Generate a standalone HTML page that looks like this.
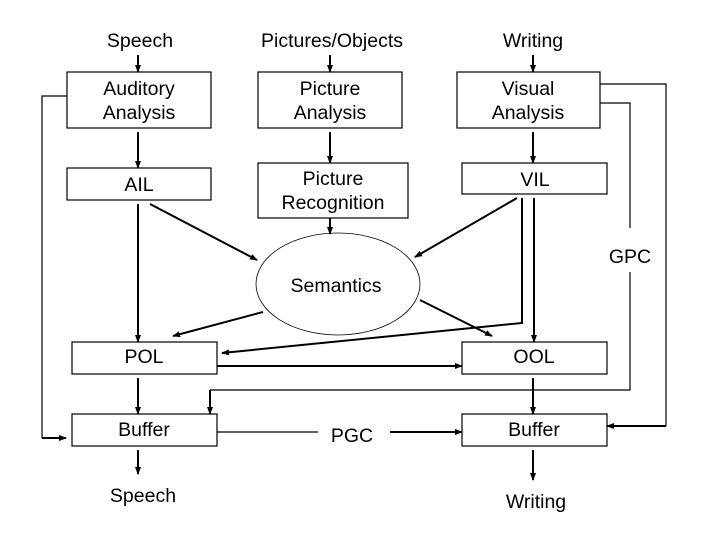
<!DOCTYPE html>
<html><head><style>body{margin:0;background:#fff}</style></head><body>
<svg width="720" height="540" xmlns="http://www.w3.org/2000/svg" font-family="Liberation Sans, Arial, sans-serif" font-size="19.5" text-anchor="middle">
<defs><marker id="a" markerWidth="8" markerHeight="8" refX="7" refY="4" orient="auto" markerUnits="userSpaceOnUse"><path d="M0,1 L8,4 L0,7z" fill="#000"/></marker></defs>
<g fill="none" stroke="#000" stroke-width="1.2">
<rect x="67" y="72" width="144" height="56"/>
<rect x="258" y="72" width="144" height="56"/>
<rect x="457" y="72" width="143" height="56"/>
<rect x="67" y="168" width="144" height="32"/>
<rect x="258" y="163" width="150" height="55"/>
<rect x="462" y="163" width="145" height="31"/>
<ellipse cx="338" cy="284" rx="82" ry="51" stroke-width="0.8"/>
<rect x="72" y="342" width="145" height="32"/>
<rect x="462" y="342" width="145" height="32"/>
<rect x="72" y="414" width="145" height="32"/>
<rect x="462" y="414" width="145" height="32"/>
<polyline points="67,96 42,96 42,438"/>
<polyline points="600,103 630,103 630,228"/>
<polyline points="630,272 630,390 210,390"/>
<polyline points="600,84 666,84 666,426"/>
<line x1="217" y1="432" x2="318" y2="432"/>
</g>
<g stroke="#000" stroke-width="2" marker-end="url(#a)">
<line x1="138" y1="55" x2="138" y2="72"/>
<line x1="330" y1="55" x2="330" y2="72"/>
<line x1="533" y1="55" x2="533" y2="72"/>
<line x1="138" y1="132" x2="138" y2="168"/>
<line x1="330" y1="132" x2="330" y2="163"/>
<line x1="533" y1="132" x2="533" y2="163"/>
<line x1="138" y1="204" x2="138" y2="342"/>
<line x1="150" y1="204" x2="257" y2="260"/>
<line x1="330" y1="218" x2="330" y2="234"/>
<line x1="517" y1="198" x2="415" y2="257"/>
<line x1="534" y1="198" x2="534" y2="342"/>
<line x1="263" y1="312" x2="173" y2="336"/>
<line x1="420" y1="300" x2="492" y2="336"/>
<polyline points="522,198 522,323 222,353" fill="none"/>
<line x1="217" y1="366" x2="462" y2="366"/>
<line x1="138" y1="378" x2="138" y2="414"/>
<line x1="533" y1="378" x2="533" y2="414"/>
<line x1="138" y1="450" x2="138" y2="474"/>
<line x1="533" y1="450" x2="533" y2="480"/>
<line x1="390" y1="432" x2="462" y2="432"/>
<line x1="42" y1="438" x2="66" y2="438"/>
<line x1="210" y1="390" x2="210" y2="414"/>
<line x1="666" y1="426" x2="607" y2="426"/>
</g>
<g fill="#000">
<text x="140" y="47">Speech</text>
<text x="332" y="47">Pictures/Objects</text>
<text x="533" y="47">Writing</text>
<text x="139" y="95">Auditory</text><text x="139" y="119">Analysis</text>
<text x="330" y="95">Picture</text><text x="330" y="119">Analysis</text>
<text x="528" y="95">Visual</text><text x="528" y="119">Analysis</text>
<text x="139" y="191">AIL</text>
<text x="333" y="185">Picture</text><text x="333" y="209">Recognition</text>
<text x="535" y="186">VIL</text>
<text x="630" y="263">GPC</text>
<text x="336" y="292">Semantics</text>
<text x="144" y="363">POL</text>
<text x="534" y="363">OOL</text>
<text x="144" y="436">Buffer</text>
<text x="534" y="436">Buffer</text>
<text x="352" y="442">PGC</text>
<text x="143" y="502">Speech</text>
<text x="536" y="508">Writing</text>
</g>
</svg>
</body></html>
